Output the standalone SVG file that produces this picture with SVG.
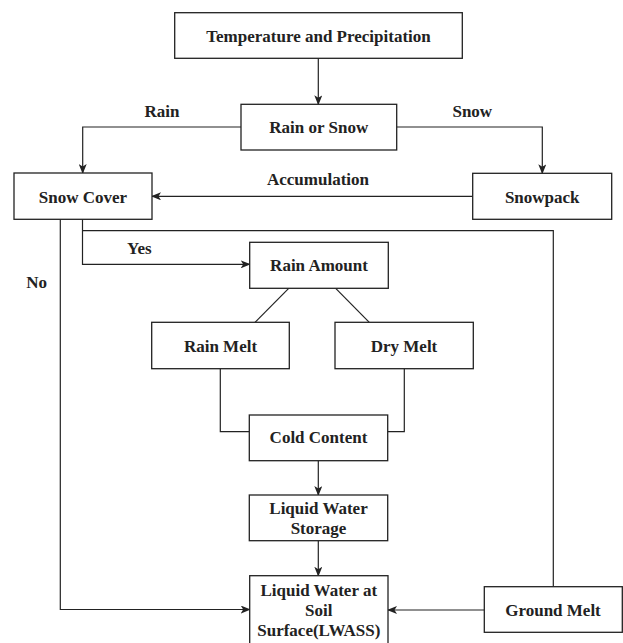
<svg xmlns="http://www.w3.org/2000/svg" width="623" height="643" viewBox="0 0 623 643">
<style>
.box{fill:#fff;stroke:#222;stroke-width:1.3}
.t{font-family:"Liberation Serif","Times New Roman",serif;font-weight:bold;font-size:17px;fill:#222;text-anchor:middle}
.c{fill:none;stroke:#222;stroke-width:1.2}
.a{marker-end:url(#ah)}
</style>
<defs>
<marker id="ah" viewBox="0 0 10 8" refX="9" refY="4" markerWidth="10" markerHeight="8" markerUnits="userSpaceOnUse" orient="auto">
<path d="M0,0 L10,4 L0,8 L2.5,4 z" fill="#222"/>
</marker>
</defs>
<rect width="623" height="643" fill="#fff"/>
<g id="connectors">
<path class="c a" d="M318.3,58.3 V104.3"/>
<path class="c a" d="M241,127 H82.7 V173"/>
<path class="c a" d="M396.7,127 H542.3 V173.3"/>
<path class="c a" d="M472.7,196.3 H152"/>
<path class="c a" d="M82.5,219.3 V264.3 H249.7"/>
<path class="c" d="M82.5,230.7 H553.3 V586.7"/>
<path class="c a" d="M60.3,219.3 V609.5 H249.7"/>
<path class="c" d="M288.7,288.3 L255,322.3"/>
<path class="c" d="M335.7,288.3 L369.3,322.3"/>
<path class="c" d="M220.3,368.7 V431.7 H249.3"/>
<path class="c" d="M404.3,368.7 V431.7 H387.7"/>
<path class="c a" d="M318.3,460.7 V495"/>
<path class="c a" d="M318.3,540.7 V575.7"/>
<path class="c a" d="M484.3,610 H388"/>
<text class="t" x="162" y="116.7">Rain</text>
<text class="t" x="472.3" y="116.7">Snow</text>
<text class="t" x="318" y="185">Accumulation</text>
<text class="t" x="139.3" y="254.3">Yes</text>
<text class="t" x="36.7" y="288.3">No</text>
</g>
<g id="temp"><rect class="box" x="174.7" y="12.7" width="287.6" height="45.6"/><text class="t" x="318.5" y="41.7">Temperature and Precipitation</text></g>
<g id="rainorsnow"><rect class="box" x="241" y="104.3" width="155.7" height="45.7"/><text class="t" x="318.8" y="133.3">Rain or Snow</text></g>
<g id="snowcover"><rect class="box" x="14" y="173" width="138" height="46.3"/><text class="t" x="83" y="202.7">Snow Cover</text></g>
<g id="snowpack"><rect class="box" x="472.7" y="173.3" width="139" height="46"/><text class="t" x="542.2" y="202.7">Snowpack</text></g>
<g id="rainamount"><rect class="box" x="249.7" y="242.3" width="138.6" height="46"/><text class="t" x="319" y="271">Rain Amount</text></g>
<g id="rainmelt"><rect class="box" x="151.7" y="322.3" width="137.6" height="46.4"/><text class="t" x="220.5" y="351.7">Rain Melt</text></g>
<g id="drymelt"><rect class="box" x="335" y="322.3" width="138.3" height="46.4"/><text class="t" x="404" y="351.7">Dry Melt</text></g>
<g id="coldcontent"><rect class="box" x="249.3" y="415" width="138.4" height="45.7"/><text class="t" x="318.5" y="443.3">Cold Content</text></g>
<g id="lws"><rect class="box" x="249.3" y="495" width="138.4" height="45.7"/><text class="t" x="318.5" y="514.3">Liquid Water</text><text class="t" x="318.5" y="534.3">Storage</text></g>
<g id="lwass"><rect class="box" x="249.7" y="575.7" width="138.3" height="80"/><text class="t" x="318.8" y="595.7">Liquid Water at</text><text class="t" x="318.8" y="615.7">Soil</text><text class="t" x="318.8" y="636">Surface(LWASS)</text></g>
<g id="groundmelt"><rect class="box" x="484.3" y="586.7" width="138" height="45.6"/><text class="t" x="553" y="615.7">Ground Melt</text></g>
</svg>
